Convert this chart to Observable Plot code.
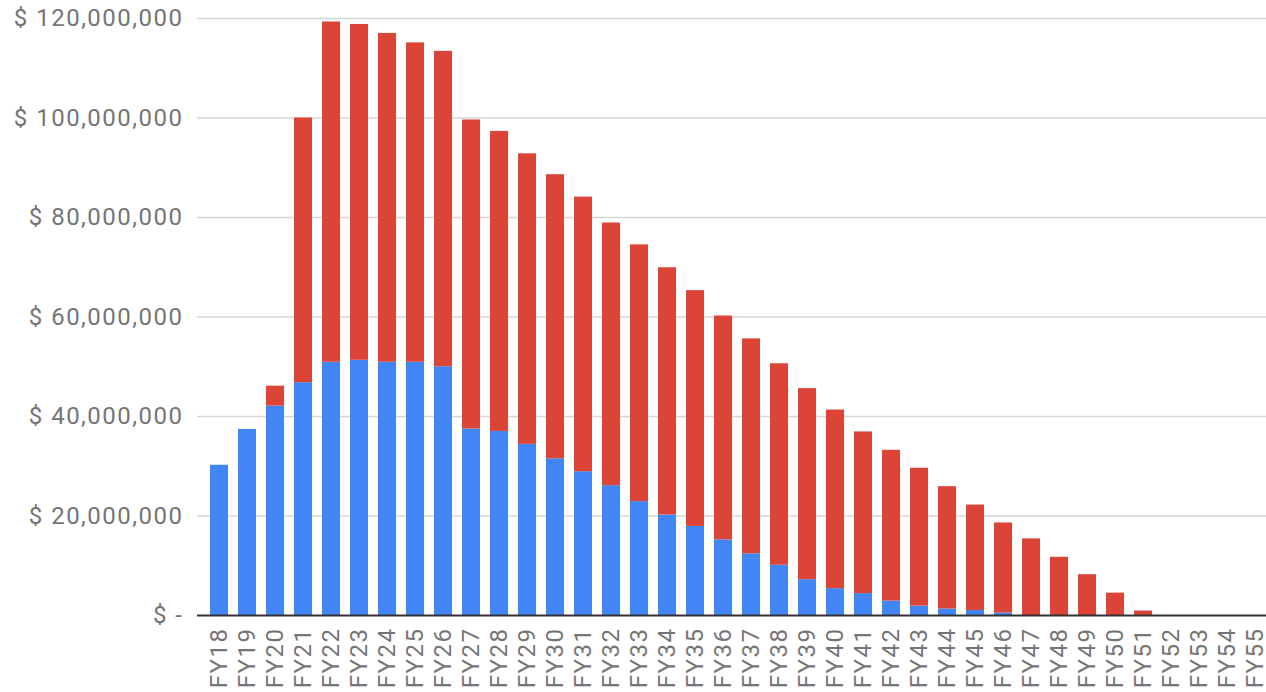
<!DOCTYPE html>
<html><head><meta charset="utf-8">
<script src="https://cdn.jsdelivr.net/npm/d3@7"></script>
<script src="https://cdn.jsdelivr.net/npm/@observablehq/plot@0.6"></script>
<style>
html,body{margin:0;padding:0;background:#fff;overflow:hidden}
#chart svg text{letter-spacing:1.5px}
</style>
</head><body><div id="chart"></div>
<script>
const years = ["FY18","FY19","FY20","FY21","FY22","FY23","FY24","FY25","FY26","FY27","FY28","FY29","FY30","FY31","FY32","FY33","FY34","FY35","FY36","FY37","FY38","FY39","FY40","FY41","FY42","FY43","FY44","FY45","FY46","FY47","FY48","FY49","FY50","FY51","FY52","FY53","FY54","FY55"];
// values in $ millions
const blueValues = [30.2,37.4,42.1,46.8,50.9,51.3,50.9,50.9,50.0,37.5,37.0,34.4,31.5,28.9,26.1,22.9,20.2,17.9,15.2,12.4,10.1,7.2,5.4,4.4,2.9,1.9,1.3,1.0,0.5,0,0,0,0,0,0,0,0,0];
const redValues  = [0,0,4.0,53.2,68.4,67.5,66.1,64.2,63.4,62.1,60.3,58.4,57.1,55.2,52.8,51.6,49.7,47.4,45.0,43.2,40.5,38.4,35.9,32.5,30.3,27.7,24.6,21.2,18.1,15.4,11.7,8.2,4.5,0.9,0,0,0,0];
const seriesNames = ["Series 1","Series 2"];
const seriesColors = ["#4285F4","#DB4437"];
const yTicks = [0,20e6,40e6,60e6,80e6,100e6,120e6];

const data = years.flatMap((fy,i)=>[
  {fy, series: seriesNames[0], value: blueValues[i]*1e6},
  {fy, series: seriesNames[1], value: redValues[i]*1e6}
]);

const chart = Plot.plot({
  width:1266, height:692,
  marginLeft:197, marginRight:0, marginTop:18, marginBottom:77,
  style:{fontFamily:"Roboto, sans-serif", fontSize:"24px", color:"#757575", background:"#fff"},
  x:{domain:years, range:[197,1277], paddingInner:0.36, paddingOuter:0.355, label:null},
  y:{domain:[0,120e6], label:null},
  color:{domain:seriesNames, range:seriesColors},
  marks:[
    Plot.ruleY(yTicks.filter(d=>d>0), {stroke:"#d6d6d6", strokeWidth:1.5}),
    Plot.barY(data, {x:"fy", y:"value", fill:"series"}),
    Plot.ruleY([0], {stroke:"#333", strokeWidth:2}),
    Plot.axisY({ticks:yTicks, tickSize:0, tickPadding:14, label:null,
      tickFormat: d => d===0 ? "$ -" : "$ " + d3.format(",")(d)}),
    Plot.axisX({tickSize:0, tickPadding:12, tickRotate:-90, label:null})
  ]
});
document.getElementById("chart").append(chart);
</script>
</body></html>
